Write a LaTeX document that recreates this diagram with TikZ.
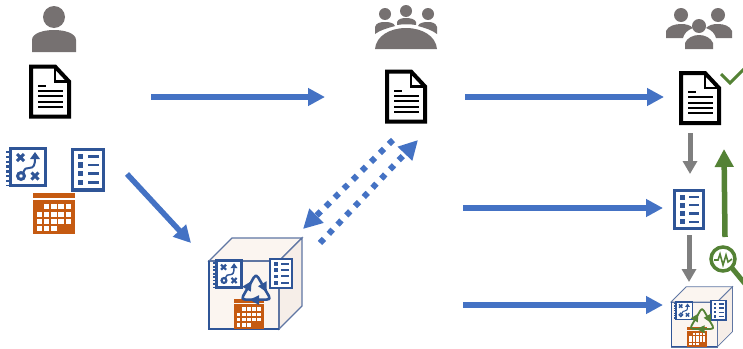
\documentclass[tikz,border=0pt]{standalone}
\usetikzlibrary{arrows.meta}
\definecolor{flow}{HTML}{4472C4}
\definecolor{iconblue}{HTML}{2F5597}
\definecolor{iconorange}{HTML}{C55A11}
\definecolor{icongray}{HTML}{767171}
\definecolor{arrowgray}{HTML}{7F7F7F}
\definecolor{okgreen}{HTML}{548235}
\definecolor{cubefront}{HTML}{FBF5F0}
\definecolor{cubeside}{HTML}{F6EEE8}
\definecolor{cubeline}{HTML}{5F76A3}
\tikzset{
  flowarrow/.style={draw=flow,line width=5.5pt,-{Triangle[length=17pt,width=17pt]}},
  dotarrow/.style={draw=flow,line width=6pt,dash pattern=on 5.7pt off 7pt,-{Triangle[length=19pt,width=19pt]}},
  grayarrow/.style={draw=arrowgray,line width=5pt,-{Triangle[length=13pt,width=14pt]}},
  greenarrow/.style={draw=okgreen,line width=5.5pt,-{Triangle[length=18pt,width=18pt]}},
}
\def\iu{1}
\newcommand{\docicon}{%
  \fill[white] (-19,-25)--(5,-25)--(19,-10)--(19,25)--(-19,25)--cycle;
  \draw[black,line width=\iu*4pt,line join=miter] (-19,-25)--(5,-25)--(19,-10)--(19,25)--(-19,25)--cycle;
  \draw[black,line width=\iu*2.5pt] (5,-25)--(5,-10)--(19,-10);
  \draw[black,line width=\iu*2pt] (-12,-6)--(-4,-6) (-12,-.7)--(13,-.7) (-12,4.7)--(13,4.7) (-12,10)--(13,10) (-12,15.3)--(13,15.3);
}
\newcommand{\planicon}{%
  \draw[iconblue,line width=\iu*2.4pt,dash pattern=on \iu*2.4pt off \iu*2.4pt] (-20.5,-16)--(-20.5,18);
  \draw[iconblue,fill=white,line width=\iu*3.4pt] (-17.5,-18.5)rectangle(17.5,18.5);
  \begin{scope}[iconblue,line width=\iu*3pt]
    \draw (-11,-13)--(-4,-6) (-4,-13)--(-11,-6);
    \draw (3.5,5.5)--(10.5,12.5) (10.5,5.5)--(3.5,12.5);
    \draw (-7,9) circle (3.4);
    \draw[line width=\iu*2pt] (-5,6) .. controls (-3,1) and (-2,1) .. (1,1) .. controls (6,1) and (7,-2) .. (7,-9);
    \fill (7,-15)--(2,-8)--(12,-8)--cycle;
  \end{scope}
}
\newcommand{\checkicon}{%
  \draw[iconblue,fill=white,line width=\iu*3.4pt] (-15.3,-20.3)rectangle(15.3,20.3);
  \foreach \yy in {-13,-4.5,4,13}{
    \fill[iconblue] (-9.8,\yy-2.6)rectangle(-4.6,\yy+2.6);
    \draw[iconblue,line width=\iu*2.6pt] (0,\yy)--(10.5,\yy);
  }
}
\newcommand{\calicon}{%
  \fill[iconorange] (-21,-20.5)rectangle(21,-15.5);
  \fill[iconorange] (-21,-13.5)rectangle(21,20.5);
  \foreach \xx/\yy in {-7.3/-6.7,0/-6.7,7/-6.7,14.3/-6.7,
    -14.7/.7,-7.3/.7,0/.7,7/.7,14.3/.7,
    -14.7/7.7,-7.3/7.7,0/7.7,7/7.7,14.3/7.7,
    -14.7/15,-7.3/15,0/15}{
    \fill[white] (\xx-2.6,\yy-2.6)rectangle(\xx+2.6,\yy+2.6);
  }
}
% one of the three recycling arrows
\newcommand{\recyclearm}[1]{%
  \draw[#1,line width=\iu*2.6pt,line join=round] (-9,-1.5)--(-2.2,-13.5)--(0,-15.5)--(2.2,-13.5)--(6,-7);
  \fill[#1] (10.6,-9.8)--(2,-4.8)--(10.8,1.2)--cycle;
}
\newcommand{\recycleicon}[1]{%
  \foreach \aa in {0,120,240}{
    \begin{scope}[rotate=\aa]\recyclearm{#1}\end{scope}
  }
}
\newcommand{\cubeicon}[2]{%
  \pgfmathsetmacro{\inneriu}{.72*\iu}%
  \draw[cubeline,line width=\iu*1.1pt,fill=cubefront] (0,0)--(23,-23)--(93,-23)--(70,0)--cycle;
  \draw[cubeline,line width=\iu*1.1pt,fill=cubeside] (70,0)--(93,-23)--(93,45)--(70,68)--cycle;
  \draw[cubeline,line width=\iu*1.1pt,fill=cubefront] (0,0)rectangle(70,68);
  \draw[iconblue,line width=\iu*1.4pt] (0,0)--(0,68)--(70,68);
  \begin{scope}[shift={(20,13)},scale=.72]\let\iu\inneriu\planicon\end{scope}
  \begin{scope}[shift={(72,12.5)},scale=.72]\let\iu\inneriu\checkicon\end{scope}
  \begin{scope}[shift={(40,53)},scale=.72]\calicon\end{scope}
  \begin{scope}[shift={(47,30)},scale=#2]\recycleicon{#1}\end{scope}
}
\begin{document}
\begin{tikzpicture}[x=1pt,y=-1pt]
\useasboundingbox (0,0) rectangle (743,348);
\clip (0,0) rectangle (743,348);
\fill[white] (0,0) rectangle (743,348);

% person
\fill[icongray] (54,17) circle (11);
\fill[icongray] (32,52) -- (32,40) .. controls (32,33) and (44,30) .. (54,30) .. controls (64,30) and (76,33) .. (76,40) -- (76,52) -- cycle;

% meeting
\fill[icongray] (385,14) circle (6) (406,11) circle (6) (428,14) circle (6);
\fill[icongray] (375,34) -- (375,27) .. controls (376,23) and (380,22) .. (385,22) .. controls (390,22) and (394,23) .. (395,26) .. controls (388,28) and (380,30) .. (375,34) -- cycle;
\fill[icongray] (437,34) -- (437,27) .. controls (436,23) and (432,22) .. (428,22) .. controls (423,22) and (419,23) .. (418,26) .. controls (425,28) and (432,30) .. (437,34) -- cycle;
\fill[icongray] (397,25) -- (397,22) .. controls (398,19) and (402,18) .. (406,18) .. controls (410,18) and (415,19) .. (416,22) -- (416,25) .. controls (410,24) and (403,24) .. (397,25) -- cycle;
\fill[icongray] (375,49) .. controls (376,36) and (390,28) .. (406,28) .. controls (422,28) and (436,36) .. (437,49) -- cycle;

% team
\fill[icongray] (681,15) circle (7) (718,15) circle (7);
\fill[icongray] (666,38) -- (666,31) .. controls (668,26) and (675,24) .. (681,24) .. controls (686,24) and (690,25) .. (693,28) .. controls (687,30) and (684,34) .. (683,38) -- cycle;
\fill[icongray] (732,38) -- (732,31) .. controls (730,26) and (724,24) .. (718,24) .. controls (713,24) and (709,25) .. (706,28) .. controls (712,30) and (715,34) .. (716,38) -- cycle;
\fill[icongray] (699,26) circle (7);
\fill[icongray] (685,49) -- (685,43) .. controls (687,38) and (693,35) .. (699,35) .. controls (705,35) and (711,38) .. (713,43) -- (713,49) -- cycle;

% documents
\begin{scope}[shift={(50,91.5)}]\docicon\end{scope}
\begin{scope}[shift={(406,96.5)}]\docicon\end{scope}
\begin{scope}[shift={(700,98)}]\docicon\end{scope}

% left icons
\begin{scope}[shift={(28,167)}]\planicon\end{scope}
\begin{scope}[shift={(88,169.5)}]\checkicon\end{scope}
\begin{scope}[shift={(54,213.5)}]\calicon\end{scope}

% cubes
\begin{scope}[shift={(209,261)}]\cubeicon{iconblue}{1}\end{scope}
\begin{scope}[shift={(671,302)},scale=.66]\def\iu{.7}\cubeicon{okgreen}{1.25}\end{scope}

% right-hand checklist
\begin{scope}[shift={(689,209.5)},scale=.95]\def\iu{.95}\checkicon\end{scope}

% check mark
\draw[okgreen,line width=3pt] (721,74)--(730,83)--(744,69);

% magnifier
\draw[okgreen,line width=3.5pt] (723,259) circle (12);
\draw[okgreen,line width=1.6pt] (714,260)--(718,260)--(720,254)--(723,265)--(726,255)--(728,262)--(732,259);
\draw[okgreen,line width=5pt] (732,268)--(746,285);

% connector ends
\coordinate (a1s) at (151,97);   \coordinate (a1e) at (325,97);
\coordinate (a2s) at (127,174);  \coordinate (a2e) at (191,243);
\coordinate (a3s) at (465,97);   \coordinate (a3e) at (664,97);
\coordinate (a4s) at (463,208);  \coordinate (a4e) at (663,208);
\coordinate (a5s) at (463,305);  \coordinate (a5e) at (663,305);
\coordinate (d1s) at (393,140);  \coordinate (d1e) at (303,229);
\coordinate (d2s) at (320,243);  \coordinate (d2e) at (418,140);
\coordinate (g1s) at (690,133);  \coordinate (g1e) at (690,174);
\coordinate (g2s) at (689,235);  \coordinate (g2e) at (689,282);
\coordinate (v1s) at (725,237);  \coordinate (v1e) at (724,149);

\draw[flowarrow] (a1s) -- (a1e);
\draw[flowarrow] (a2s) -- (a2e);
\draw[flowarrow] (a3s) -- (a3e);
\draw[flowarrow] (a4s) -- (a4e);
\draw[flowarrow] (a5s) -- (a5e);
\draw[dotarrow] (d1s) -- (d1e);
\draw[dotarrow] (d2s) -- (d2e);
\draw[grayarrow] (g1s) -- (g1e);
\draw[grayarrow] (g2s) -- (g2e);
\draw[greenarrow] (v1s) -- (v1e);
\end{tikzpicture}
\end{document}
